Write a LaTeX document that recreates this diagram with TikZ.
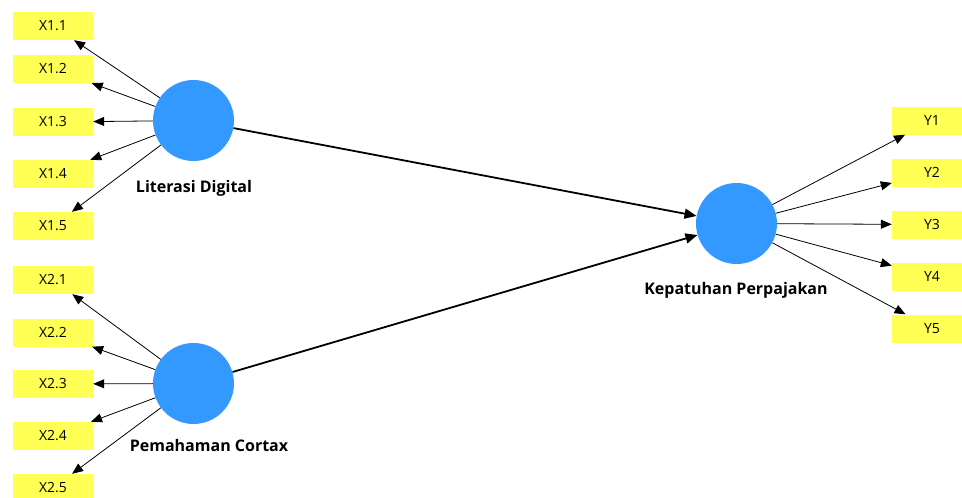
\documentclass[tikz,border=0pt]{standalone}
\usepackage{fontspec}
\setmainfont{Open Sans}
\usepackage{tikz}
\usetikzlibrary{arrows.meta}
\usetikzlibrary{positioning}
\definecolor{IndColor}{RGB}{255,255,85}
\definecolor{LatentColor}{RGB}{51,153,255}
\tikzstyle{indicator} = [fill=IndColor, minimum width=80pt, minimum height=28pt, inner sep=0pt, font=\fontsize{14}{16}\selectfont]
\tikzstyle{latent} = [circle, fill=LatentColor, minimum size=81pt, inner sep=0pt]
\tikzstyle{latentname} = [font=\fontsize{16}{18}\selectfont\bfseries]
\tikzstyle{loading} = [line width=0.8pt, -{Triangle[length=11pt,width=9pt]}]
\tikzstyle{pathline} = [line width=1.8pt, -{Triangle[length=12pt,width=10pt]}]

\begin{document}
\begin{tikzpicture}[x=1pt, y=-1pt]
    \useasboundingbox (0,0) rectangle (962,498);

    % constructs
    \node[latent] (LD) at (193.5,120.5) {};
    \node[latent] (PC) at (193.5,383.5) {};
    \node[latent] (KP) at (736.5,223.5) {};

    \node[latentname] (LDname) at (194,188) {Literasi Digital};
    \node[latentname] (PCname) at (209,445) {Pemahaman Cortax};
    \node[latentname] (KPname) at (736,290) {Kepatuhan Perpajakan};

    % indicators
    \foreach \i/\y in {1/26,2/69,3/122,4/174,5/226} {
        \node[indicator] (X1\i) at (53,\y) {X1.\i};
        \draw[loading] (LD) -- (X1\i);
    }
    \foreach \i/\y in {1/280,2/332.5,3/384,4/436,5/488} {
        \node[indicator] (X2\i) at (53,\y) {X2.\i};
        \draw[loading] (PC) -- (X2\i);
    }
    \foreach \i/\y in {1/120.5,2/172.5,3/224.5,4/276.5,5/328.5} {
        \node[indicator] (Y\i) at (932,\y) {Y\i};
        \draw[loading] (KP) -- (Y\i);
    }

    % structural paths
    \draw[pathline] (LD) -- (KP);
    \draw[pathline] (PC) -- (KP);
\end{tikzpicture}
\end{document}
